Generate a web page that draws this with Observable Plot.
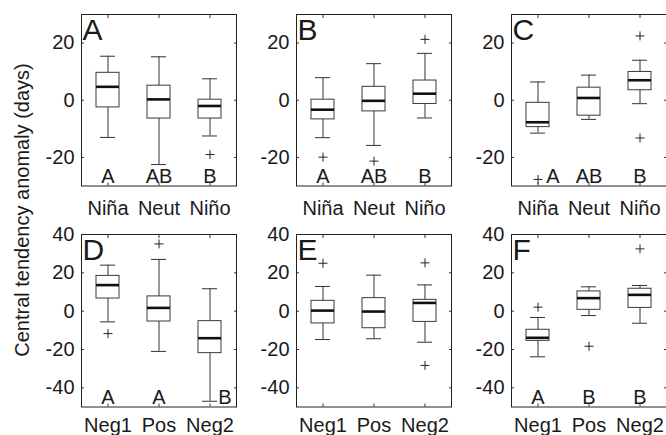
<!DOCTYPE html>
<html><head><meta charset="utf-8">
<script src="https://cdn.jsdelivr.net/npm/d3@7"></script>
<script src="https://cdn.jsdelivr.net/npm/@observablehq/plot@0.6"></script>
<style>
body{margin:0;background:#fff;}
#chart{position:relative;width:666px;height:435px;overflow:hidden;font-family:"Liberation Sans",Arial,Helvetica,sans-serif;}
.panel{position:absolute;}
#ylabel{position:absolute;left:22px;top:210px;transform:translate(-50%,-50%) rotate(-90deg);white-space:nowrap;font-size:20px;color:#1a1a1a;}
</style></head><body>
<div id="chart"><div id="ylabel">Central tendency anomaly (days)</div></div>
<script>
// categories
const ensoCats = ["Niña", "Neut", "Niño"];
const sstCats = ["Neg1", "Pos", "Neg2"];
const panelLabels = ["A", "B", "C", "D", "E", "F"];
const topTicks = [-20, 0, 20];
const bottomTicks = [-40, -20, 0, 20, 40];

// box statistics per panel (A..F), per category
const whiskerHigh = [[15.4, 15.2, 7.5], [7.9, 12.8, 16.4], [6.4, 8.8, 14.0], [24.0, 27.0, 11.7], [12.9, 18.8, 13.7], [-3.3, 12.7, 13.4]];
const q3 = [[9.6, 5.1, 0.2], [0.2, 4.7, 6.9], [-0.9, 4.4, 9.9], [18.4, 7.7, -5.2], [5.4, 6.8, 5.9], [-9.7, 10.3, 11.7]];
const medians = [[4.7, 0.3, -2.0], [-3.3, -0.2, 2.3], [-7.7, 0.8, 7.0], [13.6, 1.7, -14.1], [0.3, -0.2, 4.3], [-13.9, 6.8, 8.5]];
const q1 = [[-2.5, -6.4, -6.4], [-6.7, -3.9, -1.3], [-9.4, -5.4, 3.5], [6.6, -5.4, -21.9], [-6.4, -8.9, -5.6], [-15.5, 0.7, 1.7]];
const whiskerLow = [[-13.0, -22.5, -12.5], [-13.1, -15.8, -6.2], [-11.5, -6.7, -1.2], [-5.6, -21.0, -47.0], [-14.8, -14.4, -16.2], [-23.8, -2.3, -6.3]];
const outliers = [
  [[], [], [-19.0]],
  [[-19.9], [-21.3], [21.3]],
  [[-27.7], [], [22.5, -13.2]],
  [[-11.7], [35.1], []],
  [[25.0], [], [25.2, -28.3]],
  [[2.1], [-18.3], [32.5]]
];
const groupLetters = [["A", "AB", "B"], ["A", "AB", "B"], ["A", "AB", "B"], ["A", "A", "B"], ["", "", ""], ["A", "B", "B"]];

// style: letters nudged right to avoid overlapping marks (panel index, category index)
const nudged = new Set(["2-0", "3-2"]);
const fontFamily = '"Liberation Sans", Arial, Helvetica, sans-serif';
const ink = "#1a1a1a";

function drawPanel(i) {
  const row = Math.floor(i / 3), col = i % 3;
  const cats = row === 0 ? ensoCats : sstCats;
  const groups = cats.map((c, j) => ({
    cat: c, lo: whiskerLow[i][j], q1: q1[i][j], med: medians[i][j], q3: q3[i][j], hi: whiskerHigh[i][j],
    sig: groupLetters[i][j], shift: nudged.has(i + "-" + j)
  }));
  const outs = groups.flatMap((g, j) => outliers[i][j].map(v => ({cat: g.cat, v})));
  const ticks = row === 0 ? topTicks : bottomTicks;
  const innerH = row === 0 ? 171.5 : 172.5;
  const plot = Plot.plot({
    width: 50 + 155 + 2,
    height: 14 + innerH + 30,
    marginLeft: 50, marginRight: 2, marginTop: 14, marginBottom: 30,
    x: {type: "band", domain: cats, paddingInner: 0.545, paddingOuter: 0.2725, label: null},
    y: {domain: row === 0 ? [-30, 30] : [-50, 40], label: null},
    style: {fontSize: "20px", fontFamily, background: "transparent", color: ink, overflow: "visible"},
    marks: [
      Plot.ruleX(groups, {x: "cat", y1: "q3", y2: "hi", stroke: "#333", strokeWidth: 1}),
      Plot.ruleX(groups, {x: "cat", y1: "lo", y2: "q1", stroke: "#333", strokeWidth: 1}),
      Plot.tickY(groups, {x: "cat", y: "hi", stroke: "#333", insetLeft: 4, insetRight: 4}),
      Plot.tickY(groups, {x: "cat", y: "lo", stroke: "#333", insetLeft: 4, insetRight: 4}),
      Plot.barY(groups, {x: "cat", y1: "q1", y2: "q3", fill: "white", stroke: "#3a3a3a", strokeWidth: 1}),
      Plot.tickY(groups, {x: "cat", y: "med", stroke: "#111", strokeWidth: 2.6}),
      Plot.dot(outs, {x: "cat", y: "v", symbol: "plus", r: 3, stroke: "#222", strokeWidth: 1}),
      Plot.text(groups.filter(g => !g.shift), {x: "cat", text: "sig", frameAnchor: "bottom", lineAnchor: "bottom", dy: -3, fill: ink}),
      Plot.text(groups.filter(g => g.shift), {x: "cat", text: "sig", frameAnchor: "bottom", lineAnchor: "bottom", dy: -3, dx: 15, fill: ink}),
      Plot.text([panelLabels[i]], {text: d => d, frameAnchor: "top-left", textAnchor: "start", lineAnchor: "top", dx: 1, dy: 4, fontSize: 30, fill: ink}),
      Plot.axisY({ticks, anchor: "left", tickSize: 0, tickPadding: 7, tickFormat: d => String(d), label: null}),
      Plot.axisY({ticks, anchor: "left", tickSize: -3, tickFormat: () => "", label: null, stroke: "#333"}),
      Plot.axisY({ticks, anchor: "right", tickSize: -3, tickFormat: () => "", label: null, stroke: "#333"}),
      Plot.axisX({anchor: "bottom", tickSize: 0, tickPadding: row === 0 ? 15 : 11, label: null}),
      Plot.axisX({anchor: "bottom", tickSize: -3, tickFormat: () => "", label: null, stroke: "#333"}),
      Plot.axisX({anchor: "top", tickSize: -3, tickFormat: () => "", label: null, stroke: "#333"}),
      Plot.frame({stroke: "#222", strokeWidth: 1})
    ]
  });
  plot.classList.add("panel");
  plot.style.left = [31, 246, 461][col] + "px";
  plot.style.top = (row === 0 ? 0 : 220) + "px";
  document.getElementById("chart").appendChild(plot);
}
for (let i = 0; i < 6; i++) drawPanel(i);
</script>
</body></html>
